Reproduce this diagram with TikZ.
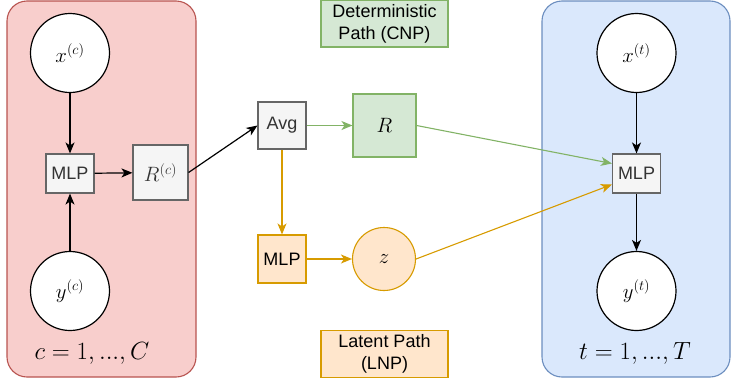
\documentclass[tikz,border=0pt]{standalone}
\usepackage{fontspec}
\setsansfont{Liberation Sans}
\usetikzlibrary{arrows.meta,calc}
\definecolor{redfill}{HTML}{F8CECC}
\definecolor{redline}{HTML}{B85450}
\definecolor{bluefill}{HTML}{DAE8FC}
\definecolor{blueline}{HTML}{6C8EBF}
\definecolor{greenfill}{HTML}{D5E8D4}
\definecolor{greenline}{HTML}{82B366}
\definecolor{orangefill}{HTML}{FFE6CC}
\definecolor{orangeline}{HTML}{D79B00}
\definecolor{grayfill}{HTML}{F5F5F5}
\definecolor{grayline}{HTML}{666666}
\definecolor{graytext}{HTML}{333333}
\tikzset{
  plate/.style={draw, line width=1.1pt, rounded corners=20pt},
  mathfont/.style={font=\fontsize{20}{24}\selectfont},
  var/.style={circle, draw=black, fill=white, line width=1.2pt, minimum size=79pt, inner sep=0pt, mathfont},
  graybox/.style={draw=grayline, fill=grayfill, line width=1.1pt, text=graytext, inner sep=0pt,
    font=\sffamily\fontsize{18}{21}\selectfont},
  tag/.style={draw, line width=1.1pt, minimum width=127pt, minimum height=47pt, inner sep=0pt,
    align=center, font=\sffamily\fontsize{18}{22}\selectfont, text=black},
  platelabel/.style={font=\fontsize{23}{27}\selectfont},
  arr/.style={-{Stealth[length=11pt,width=9pt,inset=3pt]}, line width=1.2pt},
}
\begin{document}
\begin{tikzpicture}[x=1pt,y=-1pt]
\useasboundingbox (0,0) rectangle (733,383);

% plates
\draw[plate, draw=redline, fill=redfill] (7,1) rectangle (196,377);
\draw[plate, draw=blueline, fill=bluefill] (542,1) rectangle (730,377);

% context side
\node[var] (xc) at (70,53) {$x^{(c)}$};
\node[var] (yc) at (70,291) {$y^{(c)}$};
\node[graybox, minimum width=48pt, minimum height=39pt] (mlpc) at (70,173.5) {MLP};
\node[graybox, minimum width=55pt, minimum height=55pt, mathfont] (rc) at (160.5,172.5) {$R^{(c)}$};
\node[platelabel] (lc) at (92,353) {$c=1,...,C$};

% aggregation and paths
\node[graybox, minimum width=48pt, minimum height=47pt] (avg) at (282,125.5) {Avg};
\node[draw=greenline, fill=greenfill, line width=1.1pt, minimum width=63pt, minimum height=63pt,
  mathfont] (r) at (384.5,125.5) {$R$};
\node[draw=orangeline, fill=orangefill, line width=1.1pt, minimum width=48pt, minimum height=48pt,
  inner sep=0pt, font=\sffamily\fontsize{18}{21}\selectfont] (mlpz) at (282,259) {MLP};
\node[circle, draw=orangeline, fill=orangefill, line width=1.1pt, minimum size=63pt, inner sep=0pt,
  mathfont] (z) at (384,259) {$z$};
\node[tag, draw=greenline, fill=greenfill] (det) at (384.5,23.5) {Deterministic\\Path (CNP)};
\node[tag, draw=orangeline, fill=orangefill] (lat) at (384.5,354) {Latent Path\\(LNP)};

% target side
\node[var] (xt) at (636.5,53) {$x^{(t)}$};
\node[var] (yt) at (636.5,291) {$y^{(t)}$};
\node[graybox, minimum width=48pt, minimum height=39pt] (mlpt) at (636.5,173.5) {MLP};
\node[platelabel] (lt) at (635,353) {$t=1,...,T$};

% connectors
\draw[arr] (xc) -- (mlpc);
\draw[arr] (yc) -- (mlpc);
\draw[arr] (mlpc) -- (rc);
\draw[arr] (rc.east) -- (avg.west);
\draw[arr, draw=greenline, line width=1.1pt] (avg) -- (r);
\draw[arr, draw=orangeline, line width=1.1pt] (avg) -- (mlpz);
\draw[arr, draw=orangeline, line width=1.1pt] (mlpz) -- (z);
\draw[arr, draw=greenline, line width=1.1pt] (r.east) -- ($(mlpt.west)+(0,-10)$);
\draw[arr, draw=orangeline, line width=1.1pt] (z.east) -- ($(mlpt.west)+(0,11)$);
\draw[arr] (xt) -- (mlpt);
\draw[arr] (mlpt) -- (yt);
\end{tikzpicture}
\end{document}
